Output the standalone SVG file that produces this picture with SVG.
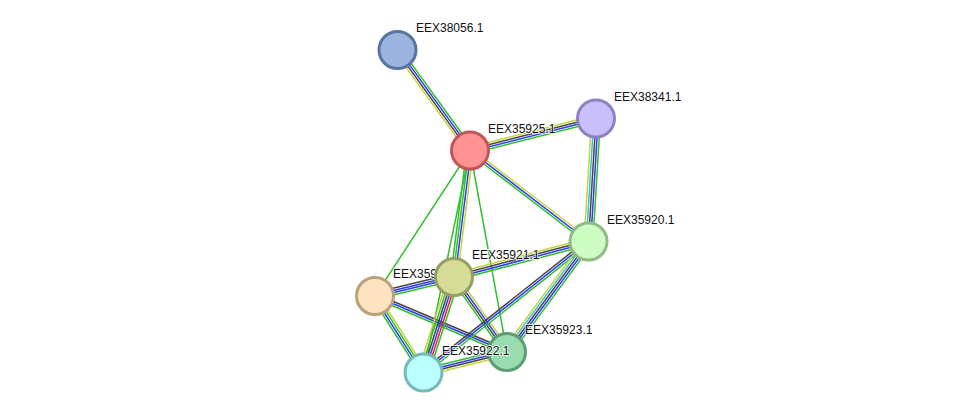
<svg xmlns="http://www.w3.org/2000/svg" width="975" height="418" viewBox="0 0 975 418">
<style>
line{stroke-width:1.5;fill:none}
.y{stroke:#c4d43a}.k{stroke:#454545}.b{stroke:#2f3cf0}.g{stroke:#2fbf2f}.r{stroke:#f02020}.c{stroke:#3fbcd8}
.n{stroke-width:3}
text{font-family:"Liberation Sans",Arial,sans-serif;font-size:12px;fill:#111;stroke:#fff;stroke-width:2;stroke-opacity:0.7;paint-order:stroke}
</style>
<rect width="975" height="418" fill="#fff"/>
<g id="edges">
<g transform="translate(397.5,50) rotate(54.19)"><line class="y" x2="123.9" y1="3.3" y2="3.3"/><line class="k" x2="123.9" y1="1.1" y2="1.1"/><line class="b" x2="123.9" y1="-1.1" y2="-1.1"/><line class="g" x2="123.9" y1="-3.3" y2="-3.3"/></g>
<g transform="translate(470,150.5) rotate(-14.25)"><line class="y" x2="130" y1="-3.3" y2="-3.3"/><line class="k" x2="130" y1="-1.1" y2="-1.1"/><line class="b" x2="130" y1="1.1" y2="1.1"/><line class="g" x2="130" y1="3.3" y2="3.3"/></g>
<g transform="translate(470,150.5) rotate(37.52)"><line class="y" x2="149.4" y1="-2.2" y2="-2.2"/><line class="b" x2="149.4" y1="0" y2="0"/><line class="g" x2="149.4" y1="2.2" y2="2.2"/></g>
<g transform="translate(596,118.5) rotate(93.49)"><line class="y" x2="123.2" y1="4.4" y2="4.4"/><line class="c" x2="123.2" y1="2.2" y2="2.2"/><line class="k" x2="123.2" y1="0" y2="0"/><line class="b" x2="123.2" y1="-2.2" y2="-2.2"/><line class="g" x2="123.2" y1="-4.4" y2="-4.4"/></g>
<g transform="translate(470,150.5) rotate(97.21)"><line class="g" x2="127.5" y1="3.3" y2="3.3"/><line class="g" x2="127.5" y1="1.1" y2="1.1"/><line class="b" x2="127.5" y1="-1.1" y2="-1.1"/><line class="y" x2="127.5" y1="-3.3" y2="-3.3"/></g>
<line class="g" x1="470" y1="150.5" x2="375" y2="296"/>
<line class="g" x1="470" y1="150.5" x2="507" y2="352"/>
<line class="g" x1="470" y1="150.5" x2="423.5" y2="372.5"/>
<g transform="translate(454,277) rotate(-14.79)"><line class="y" x2="139.1" y1="-3.3" y2="-3.3"/><line class="k" x2="139.1" y1="-1.1" y2="-1.1"/><line class="b" x2="139.1" y1="1.1" y2="1.1"/><line class="g" x2="139.1" y1="3.3" y2="3.3"/></g>
<g transform="translate(375,296) rotate(-13.52)"><line class="k" x2="81.25" y1="-3.3" y2="-3.3"/><line class="b" x2="81.25" y1="-1.1" y2="-1.1"/><line class="b" x2="81.25" y1="1.1" y2="1.1"/><line class="g" x2="81.25" y1="3.3" y2="3.3"/></g>
<g transform="translate(375,296) rotate(22.99)"><line class="k" x2="143.4" y1="-2.2" y2="-2.2"/><line class="b" x2="143.4" y1="0" y2="0"/><line class="g" x2="143.4" y1="2.2" y2="2.2"/></g>
<g transform="translate(375,296) rotate(57.62)"><line class="g" x2="90.6" y1="3.3" y2="3.3"/><line class="b" x2="90.6" y1="1.1" y2="1.1"/><line class="g" x2="90.6" y1="-1.1" y2="-1.1"/><line class="y" x2="90.6" y1="-3.3" y2="-3.3"/></g>
<g transform="translate(454,277) rotate(107.71)"><line class="y" x2="100.25" y1="5.5" y2="5.5"/><line class="g" x2="100.25" y1="3.3" y2="3.3"/><line class="k" x2="100.25" y1="1.1" y2="1.1"/><line class="b" x2="100.25" y1="-1.1" y2="-1.1"/><line class="r" x2="100.25" y1="-3.3" y2="-3.3"/><line class="g" x2="100.25" y1="-5.5" y2="-5.5"/></g>
<g transform="translate(454,277) rotate(54.75)"><line class="g" x2="91.8" y1="3.3" y2="3.3"/><line class="k" x2="91.8" y1="1.1" y2="1.1"/><line class="b" x2="91.8" y1="-1.1" y2="-1.1"/><line class="y" x2="91.8" y1="-3.3" y2="-3.3"/></g>
<g transform="translate(588.5,241.5) rotate(141.55)"><line class="k" x2="210.7" y1="2.2" y2="2.2"/><line class="b" x2="210.7" y1="0" y2="0"/><line class="g" x2="210.7" y1="-2.2" y2="-2.2"/></g>
<g transform="translate(588.5,241.5) rotate(126.41)"><line class="y" x2="137.3" y1="4.4" y2="4.4"/><line class="c" x2="137.3" y1="2.2" y2="2.2"/><line class="k" x2="137.3" y1="0" y2="0"/><line class="b" x2="137.3" y1="-2.2" y2="-2.2"/><line class="g" x2="137.3" y1="-4.4" y2="-4.4"/></g>
<g transform="translate(423.5,372.5) rotate(-13.79)"><line class="g" x2="86" y1="-3.3" y2="-3.3"/><line class="b" x2="86" y1="-1.1" y2="-1.1"/><line class="k" x2="86" y1="1.1" y2="1.1"/><line class="y" x2="86" y1="3.3" y2="3.3"/></g>
</g>
<g id="EEX38056.1"><circle class="n" cx="397.5" cy="50" r="18.5" fill="#9ab3df" stroke="#5a74a2"/><text x="416" y="32">EEX38056.1</text></g>
<g id="EEX35925.1"><circle class="n" cx="470" cy="150.5" r="18.5" fill="#ff9393" stroke="#c05656"/><text x="488" y="133">EEX35925.1</text></g>
<g id="EEX38341.1"><circle class="n" cx="596" cy="118.5" r="18.5" fill="#c9c0fa" stroke="#8e82c4"/><text x="614" y="101">EEX38341.1</text></g>
<g id="EEX35920.1"><circle class="n" cx="588.5" cy="241.5" r="18.5" fill="#cdfdc3" stroke="#90bb86"/><text x="607" y="224">EEX35920.1</text></g>
<g id="EEX35924.1"><circle class="n" cx="375" cy="296" r="18.5" fill="#ffe3c1" stroke="#b9a17b"/><text x="393" y="278">EEX359</text></g>
<g id="EEX35921.1"><circle class="n" cx="454" cy="277" r="18.5" fill="#d4dc98" stroke="#969f61"/><text x="472" y="259">EEX35921.1</text></g>
<g id="EEX35923.1"><circle class="n" cx="507" cy="352" r="18.5" fill="#98dcb0" stroke="#5e9d74"/><text x="525" y="334">EEX35923.1</text></g>
<g id="EEX35922.1"><circle class="n" cx="423.5" cy="372.5" r="18.5" fill="#bbffff" stroke="#79b8b8"/><text x="442" y="355">EEX35922.1</text></g>
</svg>
